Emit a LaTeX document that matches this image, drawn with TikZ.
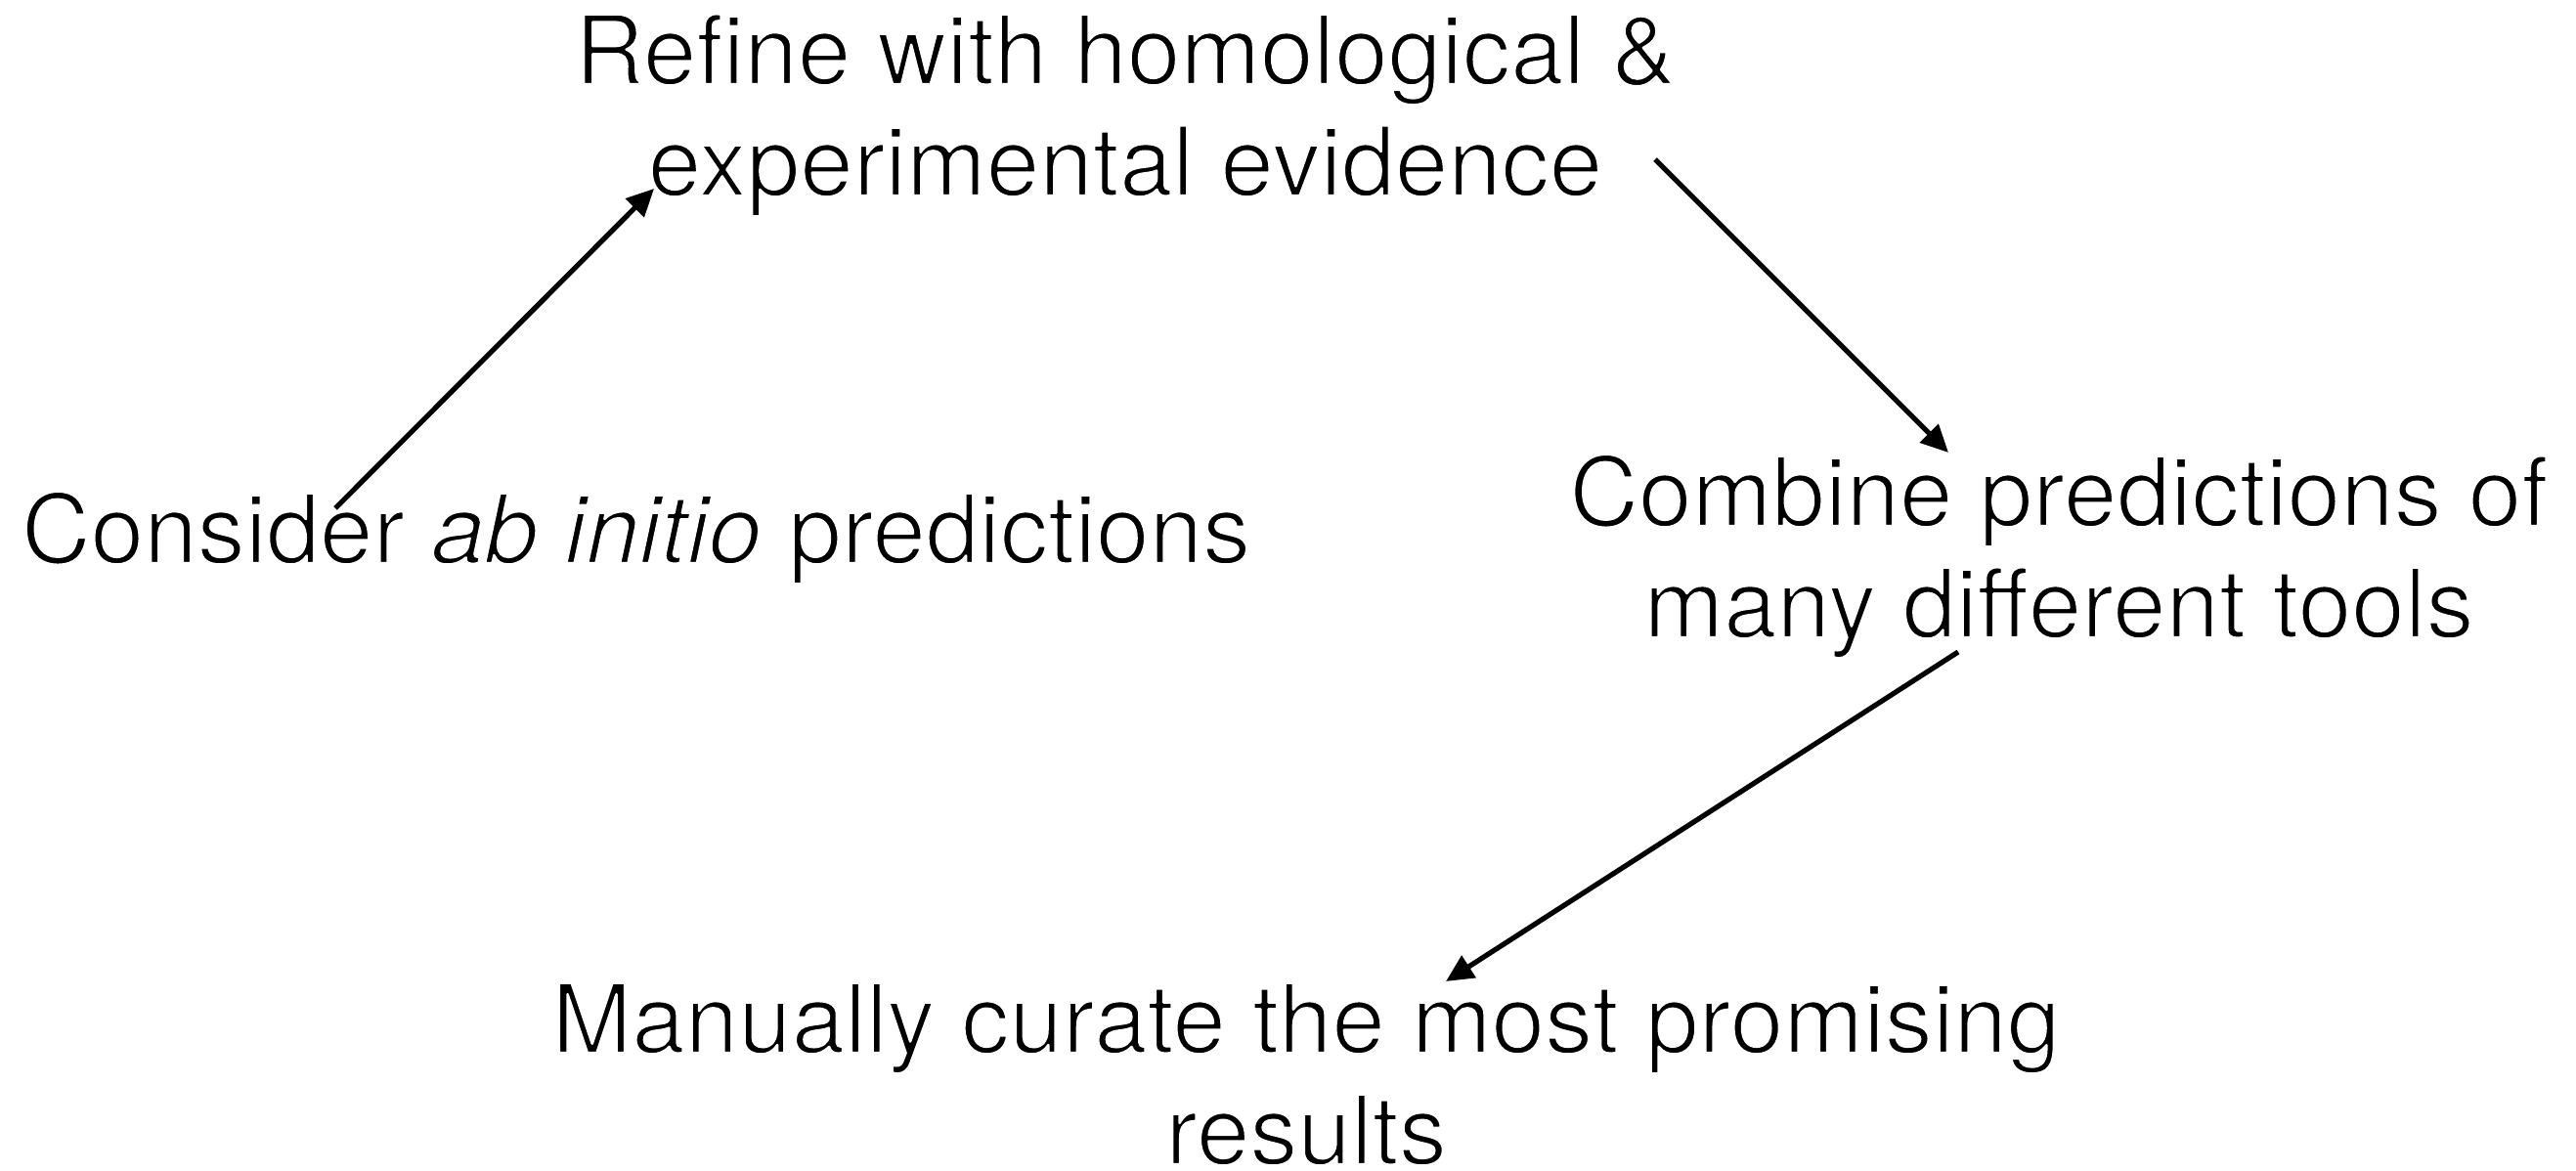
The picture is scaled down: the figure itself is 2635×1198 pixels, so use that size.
\documentclass[tikz,border=0pt]{standalone}
\usepackage{fontspec}
\setmainfont{TeX Gyre Heros}
\usetikzlibrary{arrows.meta,calc}
% thinner glyph strokes: fill in black, outline in white
\newcommand{\lightglyphs}{\special{pdf:literal 2 Tr 1 1 1 RG 2.4 w 1 j}}
\begin{document}
\begin{tikzpicture}[x=1pt,y=1pt,
  label/.style={inner sep=0pt, outer sep=0pt, anchor=base, align=center,
    font=\fontsize{98}{114}\selectfont\lightglyphs},
  flow/.style={line width=5.2pt, -{Triangle[length=28pt,width=26pt]}}]
  \path[use as bounding box] (0,0) rectangle (2635,1198);

  % the four steps (multi-line labels are anchored at their last baseline)
  \node[label, anchor=base west] (cons) at (22,622)
    {Consider \textit{ab initio} predictions};
  \node[label] (refine) at (1151,998)
    {Refine with homological \&\\experimental evidence};
  \node[label] (comb) at (2106,546)
    {Combine predictions of\\many different tools};
  \node[label] (manual) at (1336,7)
    {Manually curate the most promising\\results};

  % connectors between the steps
  \draw[flow] ($(cons.base west)+(321,56)$) -- ($(refine.base)+(-482,7)$);
  \draw[flow] ($(refine.base)+(542,37)$) -- ($(comb.base)+(-113,189)$);
  \draw[flow] ($(comb.base)+(-103,-15)$) -- ($(manual.base)+(143,187)$);
\end{tikzpicture}
\end{document}
